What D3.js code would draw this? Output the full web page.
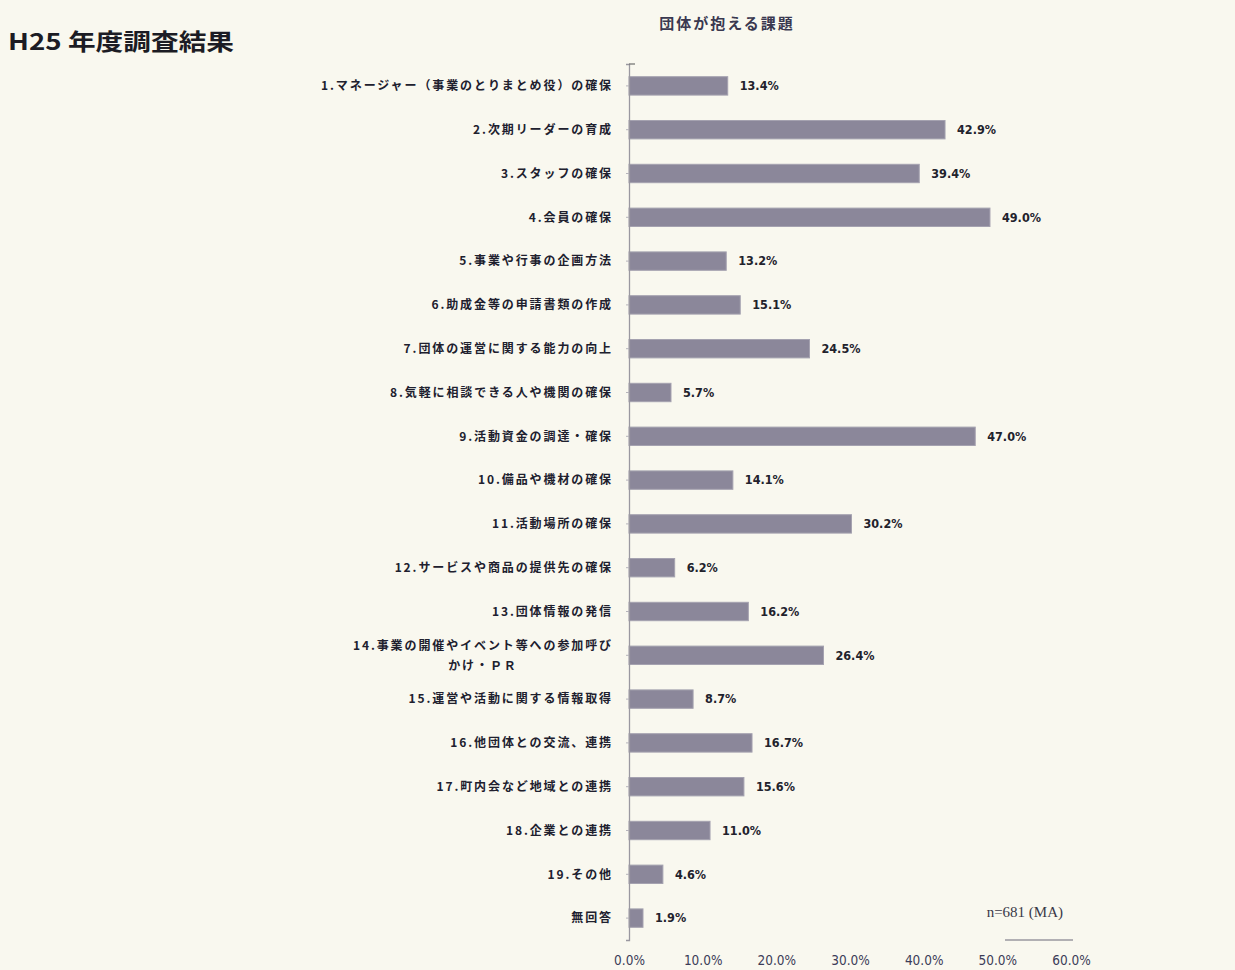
<!DOCTYPE html>
<html><head><meta charset="utf-8">
<script src="https://cdn.jsdelivr.net/npm/d3@7"></script>
<style>
html,body{margin:0;padding:0;background:#f9f8ef;}
svg{display:block;}
</style></head>
<body>
<svg id="c" width="1235" height="970"></svg>
<script>
const categories = [
  "1.マネージャー（事業のとりまとめ役）の確保",
  "2.次期リーダーの育成",
  "3.スタッフの確保",
  "4.会員の確保",
  "5.事業や行事の企画方法",
  "6.助成金等の申請書類の作成",
  "7.団体の運営に関する能力の向上",
  "8.気軽に相談できる人や機関の確保",
  "9.活動資金の調達・確保",
  "10.備品や機材の確保",
  "11.活動場所の確保",
  "12.サービスや商品の提供先の確保",
  "13.団体情報の発信",
  "14.事業の開催やイベント等への参加呼び|かけ・ＰＲ",
  "15.運営や活動に関する情報取得",
  "16.他団体との交流、連携",
  "17.町内会など地域との連携",
  "18.企業との連携",
  "19.その他",
  "無回答"
];
const values = [13.4, 42.9, 39.4, 49.0, 13.2, 15.1, 24.5, 5.7, 47.0, 14.1, 30.2, 6.2, 16.2, 26.4, 8.7, 16.7, 15.6, 11.0, 4.6, 1.9];
const xTicks = [0, 10, 20, 30, 40, 50, 60];
const pageTitle = "H25 年度調査結果";
const chartTitle = "団体が抱える課題";
const note = "n=681 (MA)";

const svg = d3.select("#c");
const jp = "'Noto Sans CJK JP','Noto Sans',sans-serif";

const x = d3.scaleLinear().domain([0, 60]).range([629, 1071]);
const y = d3.scaleBand().domain(categories).range([64, 940]).paddingInner(0.58).paddingOuter(0.29);

svg.append("text").attr("x", 8).attr("y", 50)
  .attr("font-family", "'Noto Sans CJK JP',sans-serif").attr("font-weight", "bold")
  .attr("font-size", 23).attr("fill", "#1c1c24").attr("textLength", 226).attr("lengthAdjust","spacingAndGlyphs")
  .text(pageTitle);

svg.append("text").attr("x", 727).attr("y", 29).attr("text-anchor", "middle")
  .attr("font-family", jp).attr("font-weight", "bold").attr("font-size", 15)
  .attr("letter-spacing", 2).attr("fill", "#3a3850").text(chartTitle);

// bars
svg.append("g").selectAll("rect").data(categories).join("rect")
  .attr("x", x(0)).attr("y", d => y(d))
  .attr("width", (d, i) => x(values[i]) - x(0))
  .attr("height", y.bandwidth())
  .attr("fill", "#8b879a").attr("stroke", "#a5a2b0").attr("stroke-width", 1);

// vertical axis
const yAxis = d3.axisLeft(y).tickSize(3).tickFormat("");
const gy = svg.append("g").attr("transform", `translate(${x(0)},0)`).call(yAxis);
gy.select(".domain").attr("stroke", "#9a98a0").attr("stroke-width", 1.3);
gy.selectAll(".tick line").attr("stroke", "#b5b3ba");
svg.append("line").attr("x1", x(0)).attr("x2", x(0) + 6).attr("y1", 64).attr("y2", 64)
  .attr("stroke", "#777").attr("stroke-width", 1.3);

// category labels
const lg = svg.append("g").attr("font-family", jp).attr("font-weight", "bold")
  .attr("font-size", 12).attr("letter-spacing", 1.9).attr("fill", "#20202e");
categories.forEach((c, i) => {
  const cy = y(c) + y.bandwidth() / 2;
  const parts = c.split("|");
  if (parts.length === 1) {
    lg.append("text").attr("x", 613).attr("y", cy).attr("dy", "0.35em")
      .attr("text-anchor", "end").text(c);
  } else {
    const t1 = lg.append("text").attr("x", 613).attr("y", cy - 10).attr("dy", "0.35em")
      .attr("text-anchor", "end").text(parts[0]);
    const w = t1.node().getComputedTextLength();
    lg.append("text").attr("x", 613 - w / 2).attr("y", cy + 10).attr("dy", "0.35em")
      .attr("text-anchor", "middle").text(parts[1]);
  }
});

// value labels
svg.append("g").selectAll("text").data(categories).join("text")
  .attr("x", (d, i) => x(values[i]) + 12)
  .attr("y", d => y(d) + y.bandwidth() / 2).attr("dy", "0.35em")
  .attr("font-family", "'Liberation Sans Narrow','DejaVu Sans Condensed',sans-serif")
  .attr("font-weight", "bold").attr("font-size", 12.5).attr("fill", "#22222c")
  .text((d, i) => values[i].toFixed(1) + "%");

// x axis labels
const xAxis = d3.axisBottom(x).tickValues(xTicks).tickSize(0).tickFormat(d => d.toFixed(1) + "%");
const gx = svg.append("g").attr("transform", "translate(0,952)").call(xAxis);
gx.select(".domain").remove();
gx.selectAll("text").attr("font-family", "'Liberation Sans Narrow','DejaVu Sans Condensed',sans-serif")
  .attr("font-size", 13.5).attr("fill", "#3c3c58");

// note
svg.append("text").attr("x", 1063).attr("y", 917).attr("text-anchor", "end")
  .attr("font-family", "'Liberation Serif','DejaVu Serif',serif").attr("font-size", 15)
  .attr("fill", "#3a3848").text(note);
svg.append("line").attr("x1", 1005).attr("x2", 1073).attr("y1", 940).attr("y2", 940)
  .attr("stroke", "#6a6878").attr("stroke-width", 1);
</script>
</body></html>
